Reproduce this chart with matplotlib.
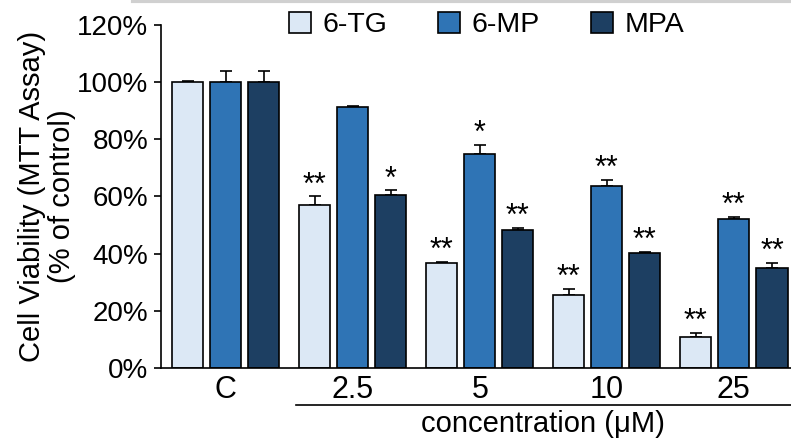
import numpy as np
import matplotlib
matplotlib.use("Agg")
import matplotlib.pyplot as plt
import matplotlib.transforms as mtransforms

# ------------ data -----------------
groups = ["C", "2.5", "5", "10", "25"]
series = ["6-TG", "6-MP", "MPA"]
tg_vals = [100, 57, 36.7, 25.6, 10.9]
tg_err = [0.5, 3, 0.4, 2, 1.5]
mp_vals = [100, 91.2, 75, 63.8, 52]
mp_err = [4, 0.5, 3, 2, 0.8]
mpa_vals = [100, 60.6, 48.3, 40.1, 34.9]
mpa_err = [4, 1.5, 0.7, 0.5, 2]
tg_sig = ["", "**", "**", "**", "**"]
mp_sig = ["", "", "*", "**", "**"]
mpa_sig = ["", "*", "**", "**", "**"]
yticks = [0, 20, 40, 60, 80, 100, 120]

colors = ["#dce8f5", "#2f74b5", "#1d3f62"]
plt.rcParams["font.family"] = ["Liberation Sans", "DejaVu Sans"]

fig = plt.figure(figsize=(7.91, 4.41), dpi=100)
ax = fig.add_axes([0.2035, 0.1655, 0.7965, 0.778])

x = np.arange(len(groups))
step = 0.3
width = 0.245
all_vals = [tg_vals, mp_vals, mpa_vals]
all_err = [tg_err, mp_err, mpa_err]
all_sig = [tg_sig, mp_sig, mpa_sig]
for i, name in enumerate(series):
    pos = x + (i - 1) * step
    ax.bar(pos, all_vals[i], width, color=colors[i], edgecolor="black",
           linewidth=1.2, label=name, zorder=2)
    ax.errorbar(pos, all_vals[i], yerr=[np.zeros(len(x)), all_err[i]],
                fmt="none", ecolor="black", elinewidth=1.2, capsize=4,
                capthick=1.2, zorder=1)
    for p, v, e, s in zip(pos, all_vals[i], all_err[i], all_sig[i]):
        if s:
            ax.annotate(s, (p, v + e), xytext=(0, -3), textcoords="offset points",
                        ha="center", va="bottom", fontsize=22)

ax.set_xlim(-0.51, 4.45)
ax.set_ylim(0, 120)
ax.set_yticks(yticks)
ax.set_yticklabels(["%d%%" % t for t in yticks], fontsize=20)
ax.set_xticks(x)
ax.set_xticklabels(groups, fontsize=22)
ax.tick_params(axis="x", length=0, pad=5)
ax.tick_params(axis="y", length=5, width=1.2, direction="out", pad=4)
for s in ["top", "right"]:
    ax.spines[s].set_visible(False)
for s in ["left", "bottom"]:
    ax.spines[s].set_linewidth(1.2)

ax.set_ylabel("Cell Viability (MTT Assay)\n(% of control)", fontsize=21,
              linespacing=1.1, labelpad=1)

# concentration bracket line
trans = mtransforms.blended_transform_factory(ax.transData, ax.transAxes)
ax.plot([0.55, 4.45], [-0.108, -0.108], color="black", lw=1.2,
        transform=trans, clip_on=False)
ax.text(2.5, -0.122, "concentration (\u03bcM)", transform=trans, ha="center",
        va="top", fontsize=21)

leg = ax.legend(loc="center", bbox_to_anchor=(0.517, 1.0), ncol=3,
                frameon=False, fontsize=20.5, handlelength=0.77,
                handleheight=0.77, columnspacing=1.8, handletextpad=0.4)

# thin grey line at the very top (crop edge)
fig.add_artist(plt.Line2D([0.168, 1.0], [0.997, 0.997], color="#d0d0d0", lw=3,
                          transform=fig.transFigure))

fig.savefig("out.png", dpi=100)
